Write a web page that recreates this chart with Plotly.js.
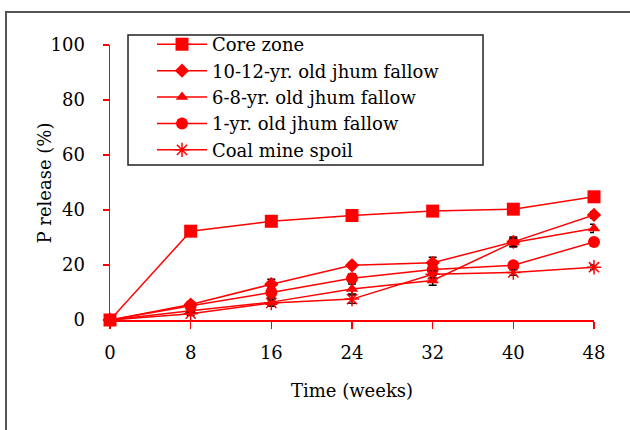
<!DOCTYPE html>
<html>
<head>
<meta charset="utf-8">
<script src="https://cdn.plot.ly/plotly-3.0.1.min.js"></script>
<style>
  html, body { margin: 0; padding: 0; background: #fff; }
  #wrap { position: relative; width: 630px; height: 430px; overflow: hidden; }
  #chart { position: absolute; left: 0; top: 0; width: 630px; height: 430px; }
  #frame { position: absolute; left: 5px; top: 11px; width: 700px; height: 500px;
           border-left: 2px solid #555; border-top: 2px solid #555; pointer-events: none; }
</style>
</head>
<body>
<div id="wrap">
  <div id="chart"></div>
  <div id="frame"></div>
</div>
<script>
const weeks = [0, 8, 16, 24, 32, 40, 48];

const seriesNames = [
  "Core zone",
  "10-12-yr. old jhum fallow",
  "6-8-yr. old jhum fallow",
  "1-yr. old jhum fallow",
  "Coal mine spoil"
];

const coreZone    = [0, 32.3, 35.9, 38.0, 39.6, 40.3, 44.8];
const fallow10_12 = [0, 5.6, 13.0, 19.9, 20.8, 28.4, 38.2];
const fallow6_8   = [0, 3.4, 6.5, 11.3, 14.4, 28.2, 33.3];
const fallow1     = [0, 5.2, 10.0, 15.2, 18.4, 19.9, 28.4];
const coalSpoil   = [0, 2.3, 6.2, 7.6, 16.6, 17.3, 19.2];

const errCore   = [0, 0.6, 0.8, 1.0, 0.8, 0.8, 1.0];
const err10_12  = [0, 0.8, 1.8, 1.0, 2.0, 1.8, 1.2];
const err6_8    = [0, 0.8, 1.5, 1.8, 1.8, 1.5, 1.5];
const err1      = [0, 0.8, 1.5, 1.5, 1.5, 1.0, 1.2];
const errCoal   = [0, 0.6, 1.2, 1.5, 1.2, 1.0, 0.8];

const yTitle = "P release (%)";
const xTitle = "Time (weeks)";

const values = [coreZone, fallow10_12, fallow6_8, fallow1, coalSpoil];
const errors = [errCore, err10_12, err6_8, err1, errCoal];
const symbols = ["square", "diamond", "triangle-up", "circle", "asterisk-open"];
const sizes = [13, 11, 11, 12, 12];

const red = "#ff0000";
const traces = values.map((v, i) => ({
  type: "scatter",
  mode: "lines+markers",
  name: seriesNames[i],
  x: weeks,
  y: v,
  line: { color: red, width: 1.5 },
  marker: { symbol: symbols[i], size: sizes[i], color: red,
            line: { color: red, width: i === 4 ? 1.5 : 0 } },
  error_y: { type: "data", array: errors[i], visible: true,
             color: "#000", thickness: 1.5, width: 4 },
  cliponaxis: false
}));

const serif = "DejaVu Serif, serif";
const txt = { family: serif, size: 18, color: "#000" };

const layout = {
  width: 630,
  height: 430,
  margin: { l: 110, r: 36, t: 45, b: 110 },
  paper_bgcolor: "#fff",
  plot_bgcolor: "#fff",
  font: txt,
  showlegend: true,
  legend: {
    x: 0.0868, y: 1.069, xanchor: "left", yanchor: "top",
    bgcolor: "rgba(0,0,0,0)", borderwidth: 0,
    font: { family: serif, size: 18, color: "#000" },
    itemwidth: 50, tracegroupgap: 0
  },
  shapes: [{
    type: "rect", xref: "paper", yref: "paper",
    x0: 0.0372, x1: 0.7707, y0: 0.5636, y1: 1.036,
    line: { color: "#222", width: 1.5 }, fillcolor: "rgba(0,0,0,0)", layer: "above"
  }],
  annotations: [{
    text: yTitle, textangle: -90, showarrow: false,
    xref: "paper", yref: "paper", x: -0.1343, y: 0.5,
    xanchor: "center", yanchor: "middle", font: txt
  }],
  xaxis: {
    range: [0, 48],
    tickvals: weeks,
    ticktext: weeks.map(String),
    showgrid: false, zeroline: false,
    showline: true, linecolor: red, linewidth: 1.5,
    ticks: "outside", ticklen: 7, tickcolor: red, tickwidth: 1.5,
    ticklabelstandoff: 9,
    tickfont: txt,
    title: { text: xTitle, font: txt, standoff: 22 }
  },
  yaxis: {
    range: [0, 100],
    tickvals: [0, 20, 40, 60, 80, 100],
    showgrid: false, zeroline: false,
    showline: true, linecolor: red, linewidth: 1.5,
    ticks: "outside", ticklen: 6, tickcolor: red, tickwidth: 1.5,
    ticklabelstandoff: 14,
    tickfont: txt
  }
};

Plotly.newPlot("chart", traces, layout, { displayModeBar: false, staticPlot: true });
</script>
</body>
</html>
